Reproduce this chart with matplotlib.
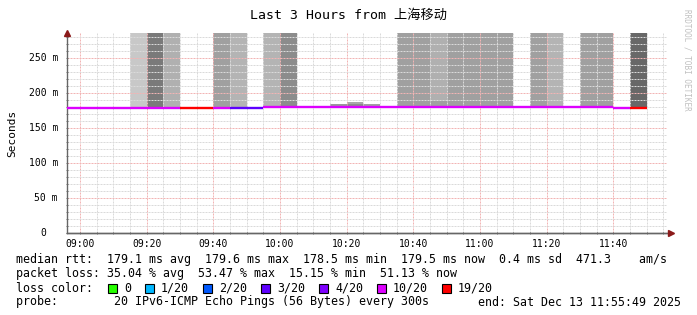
import matplotlib
matplotlib.use('Agg')
import matplotlib.pyplot as plt
import matplotlib.patches as mpatches
from matplotlib.ticker import MultipleLocator
from matplotlib.transforms import ScaledTranslation

# minutes relative to 09:00, one value per 5 minute step
bin_start = [-5, 0, 5, 10, 15, 20, 25, 30, 35, 40, 45, 50, 55, 60, 65, 70, 75, 80,
             85, 90, 95, 100, 105, 110, 115, 120, 125, 130, 135, 140, 145, 150,
             155, 160, 165]
median_ms = [178.6, 178.5, 178.6, 178.5, 178.6, 178.6, 178.6, 178.5, 178.6, 178.6,
             178.6, 178.5, 179.6, 179.6, 179.6, 179.6, 179.6, 179.6, 179.6, 179.6,
             179.6, 179.6, 179.6, 179.6, 179.6, 179.6, 179.3, 179.3, 179.3, 179.3,
             179.3, 179.3, 179.3, 178.8, 179.0]
loss_bin = ['10/20', '10/20', '10/20', '10/20', '10/20', '10/20', '10/20',
            '19/20', '19/20', '10/20', '3/20', '3/20',
            '10/20', '10/20', '10/20', '10/20', '10/20', '10/20', '10/20', '10/20',
            '10/20', '10/20', '10/20', '10/20', '10/20', '10/20', '10/20', '10/20',
            '10/20', '10/20', '10/20', '10/20', '10/20', '10/20',
            '19/20']

# smoke layers: start minute, low / high ms, shade
smoke_start = [15, 20, 25, 40, 45, 55, 60, 70, 75, 80, 80, 85, 85,
               95, 100, 105, 105, 110, 115, 120, 125, 135, 140, 150, 155, 165]
smoke_lo = [178.6, 178.6, 178.6, 178.6, 178.6, 179.6, 179.6, 179.6, 179.6, 179.6,
            184.0, 179.6, 181.5, 179.6, 179.6, 179.6, 189.0, 179.6, 179.6, 179.6,
            179.3, 179.3, 179.3, 179.3, 179.3, 179.0]
smoke_hi = [300, 300, 300, 300, 300, 300, 300, 181.8, 184.2, 184.0, 187.6, 181.5,
            184.2, 300, 300, 189.0, 300, 300, 300, 300, 300, 300, 300, 300, 300, 300]
smoke_gray = ['#c8c8c8', '#7a7a7a', '#b0b0b0', '#a0a0a0', '#b4b4b4', '#b4b4b4',
              '#8c8c8c', '#8c8c8c', '#999999', '#8c8c8c', '#a8a8a8', '#707070',
              '#a0a0a0', '#a0a0a0', '#a0a0a0', '#a0a0a0', '#b0b0b0', '#a0a0a0',
              '#a0a0a0', '#a0a0a0', '#a0a0a0', '#a0a0a0', '#b4b4b4', '#a0a0a0',
              '#a0a0a0', '#686868']

loss_labels = ['0', '1/20', '2/20', '3/20', '4/20', '10/20', '19/20']
loss_colors = ['#26ff00', '#00b8ff', '#0059ff', '#5e00ff', '#7e00ff', '#dd00ff', '#ff0000']

xtick_pos = [0, 20, 40, 60, 80, 100, 120, 140, 160]
xtick_labels = ['09:00', '09:20', '09:40', '10:00', '10:20', '10:40', '11:00', '11:20', '11:40']
ytick_pos = [0, 50, 100, 150, 200, 250]
ytick_labels = ['0', '50 m', '100 m', '150 m', '200 m', '250 m']

title = 'Last 3 Hours from 上海移动'
stat_lines = [
    'median rtt:  179.1 ms avg  179.6 ms max  178.5 ms min  179.5 ms now  0.4 ms sd  471.3    am/s',
    'packet loss: 35.04 % avg  53.47 % max  15.15 % min  51.13 % now',
]
probe_text = 'probe:        20 IPv6-ICMP Echo Pings (56 Bytes) every 300s'
end_text = 'end: Sat Dec 13 11:55:49 2025'

MONO = ['DejaVu Sans Mono', 'Noto Sans CJK SC']
plt.rcParams['font.family'] = MONO

W, H = 697, 315
fig = plt.figure(figsize=(W / 100, H / 100), dpi=100)
fig.patch.set_facecolor('white')


def fx(px):
    return px / W


def fy(py):
    return 1 - py / H


ax = fig.add_axes([fx(67), fy(233), 600 / W, 200 / H])
ax.set_xlim(-3.9, 176.1)
ax.set_ylim(0, 285.7)

# smoke
for s, lo, hi, g in zip(smoke_start, smoke_lo, smoke_hi, smoke_gray):
    ax.bar(s, hi - lo, width=5, bottom=lo, align='edge', color=g,
           linewidth=0, antialiased=False, zorder=1)

# median line coloured by loss
col_of = dict(zip(loss_labels, loss_colors))
ax.hlines(median_ms, bin_start, [b + 5 for b in bin_start],
          colors=[col_of[l] for l in loss_bin], linewidth=1.7, zorder=3,
          capstyle='butt')

# grid
ax.xaxis.set_major_locator(MultipleLocator(20))
ax.xaxis.set_minor_locator(MultipleLocator(5))
ax.yaxis.set_major_locator(MultipleLocator(50))
ax.yaxis.set_minor_locator(MultipleLocator(10))
ax.set_axisbelow('line')
ax.grid(which='minor', color='#dadada', linewidth=0.72, linestyle=(0, (2, 1)))
ax.grid(which='major', color='#f2b4b4', linewidth=0.72, linestyle=(0, (2, 1)))

ax.set_xticks(xtick_pos)
ax.set_xticklabels(xtick_labels, fontsize=7)
ax.set_yticks(ytick_pos)
ax.set_yticklabels([])
ax.tick_params(axis='both', which='both', length=2, width=0.7, color='#777777',
               direction='inout')
ax.tick_params(axis='x', pad=3)

for sp in ['top', 'right']:
    ax.spines[sp].set_visible(False)
for sp in ['left', 'bottom']:
    ax.spines[sp].set_color('#666666')
    ax.spines[sp].set_linewidth(1.0)

# y tick labels, RRDtool style (0 without unit sits left)
for v, lab in zip(ytick_pos, ytick_labels):
    shift = 9 if ' ' in lab else 9 + 11.6
    tr = ax.get_yaxis_transform() + ScaledTranslation(-shift / 100, 0, fig.dpi_scale_trans)
    ax.text(0, v, lab, transform=tr, ha='right', va='center', fontsize=7)

# axis arrows
ax.plot([0], [1.0], marker='^', markersize=4, color='#8b1a1a', transform=ax.transAxes,
        clip_on=False, zorder=5)
ax.plot([1.006], [0], marker='>', markersize=4, color='#8b1a1a', transform=ax.transAxes,
        clip_on=False, zorder=5)
ax.plot([0, 1.006], [0, 0], color='#666666', linewidth=1.0, transform=ax.transAxes,
        clip_on=False, zorder=4)

# texts
fig.text(fx(348), fy(15), title, ha='center', va='center', fontsize=9.5, family=MONO)
fig.text(fx(12), fy(133), 'Seconds', rotation=90, ha='center', va='center', fontsize=8)
fig.text(fx(687), fy(60), 'RRDTOOL / TOBI OETIKER', rotation=270, ha='center',
         va='center', fontsize=5.5, color='#c0c0c0')

for i, line in enumerate(stat_lines):
    fig.text(fx(16), fy(260 + 14 * i), line, ha='left', va='center', fontsize=8.4)

fig.text(fx(16), fy(288), 'loss color:', ha='left', va='center', fontsize=8.4)
x0 = 108
for lab, c in zip(loss_labels, loss_colors):
    fig.patches.append(mpatches.Rectangle((fx(x0), fy(292.5)), 9 / W, 9 / H,
                                          facecolor=c, edgecolor='black', linewidth=0.8,
                                          transform=fig.transFigure, figure=fig))
    fig.text(fx(x0 + 16), fy(288), lab, ha='left', va='center', fontsize=8.4)
    x0 += 30 + 7 * len(lab)

fig.text(fx(16), fy(302), probe_text, ha='left', va='center', fontsize=8.4)
fig.text(fx(681), fy(302), end_text, ha='right', va='center', fontsize=8.4)

fig.savefig('out.png', dpi=100, facecolor='white')
